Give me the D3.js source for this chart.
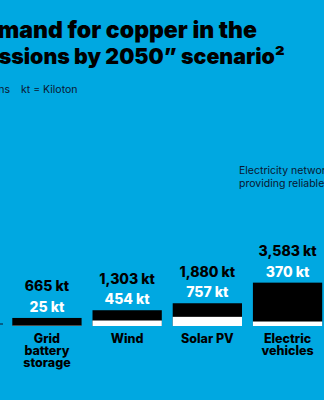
<!DOCTYPE html>
<html>
<head>
<meta charset="utf-8">
<script src="https://cdn.jsdelivr.net/npm/d3@7"></script>
<style>
  html, body { margin: 0; padding: 0; background: #00a8e1; overflow: hidden; }
  svg { display: block; font-family: Inter, "Noto Sans", sans-serif; }
</style>
</head>
<body>
<svg id="chart"></svg>
<script>
// chart data
var categories = ["Grid battery storage", "Wind", "Solar PV", "Electric vehicles"]
var categoryLines = [["Grid", "battery", "storage"], ["Wind"], ["Solar PV"], ["Electric", "vehicles"]]
var totals = [665, 1303, 1880, 3583]
var gridShare = [25, 454, 757, 370]

// the picture is a crop, so each title line is split where the left edge cuts it
var titleHidden = ["Projected de", "\u201CNet Zero Emi"]
var titleShown = ["mand for copper in the", "ssions by 2050\u201D scenario\u00B2"]
var legendText = "Demand from grid connections"
var unitText = "kt = Kiloton"
var noteLines = ["Electricity networks are key to", "providing reliable power"]

var width = 324, height = 400
var bg = "#00a8e1"

var svg = d3.select("#chart")
  .attr("width", width)
  .attr("height", height)

svg.append("rect")
  .attr("width", width).attr("height", height)
  .attr("fill", bg)

// title: fit the visible part of each line to where it sits in the original
var titleStart = [-2.5, -1.5], titleEnd = [257, 285]
titleShown.forEach(function(s, i) {
  var t = svg.append("text")
    .attr("font-size", 23.5)
    .attr("font-weight", 900)
    .text(s)
  var w = t.node().getComputedTextLength()
  var size = 23.5 * (titleEnd[i] - titleStart[i]) / w
  t.remove()
  svg.append("text")
    .attr("x", titleEnd[i])
    .attr("y", 37.5 + i * 26.5)
    .attr("text-anchor", "end")
    .attr("font-size", size)
    .attr("font-weight", 900)
    .attr("fill", "#000")
    .text(titleHidden[i] + s)
})

svg.append("text")
  .attr("x", 10).attr("y", 93)
  .attr("text-anchor", "end")
  .attr("font-size", 10.5)
  .attr("fill", "#0a1630")
  .text(legendText)

svg.append("text")
  .attr("x", 21).attr("y", 93)
  .attr("font-size", 10.5)
  .attr("fill", "#0a1630")
  .text(unitText)

// annotation at the right edge
svg.append("g").selectAll("text")
  .data(noteLines)
  .join("text")
    .attr("x", 239)
    .attr("y", (d, i) => 174 + i * 12.5)
    .attr("font-size", 10.5)
    .attr("fill", "#0a1630")
    .text(d => d)

// scales
var baseY = 326
var x = d3.scaleBand()
  .domain(categories)
  .range([12.3, 322.2])
  .paddingInner(0.136)
  .paddingOuter(0)

var y = d3.scaleLinear()
  .domain([0, 4000])
  .range([baseY, baseY - 48.4])

var data = categories.map((c, i) => ({cat: c, total: totals[i], grid: gridShare[i], lines: categoryLines[i]}))

// black = total demand
svg.append("g").selectAll("rect")
  .data(data)
  .join("rect")
    .attr("x", d => x(d.cat))
    .attr("width", x.bandwidth())
    .attr("y", d => y(d.total))
    .attr("height", d => y(0) - y(d.total))
    .attr("fill", "#000")

// white = grid part
svg.append("g").selectAll("rect")
  .data(data)
  .join("rect")
    .attr("x", d => x(d.cat))
    .attr("width", x.bandwidth())
    .attr("y", d => y(d.grid))
    .attr("height", d => y(0) - y(d.grid))
    .attr("fill", "#fff")

var fmt = d3.format(",")

svg.append("g").selectAll("text")
  .data(data)
  .join("text")
    .attr("x", d => x(d.cat) + x.bandwidth() / 2)
    .attr("y", d => y(d.total) - 26.5)
    .attr("text-anchor", "middle")
    .attr("font-size", 14)
    .attr("font-weight", 800)
    .attr("fill", "#000")
    .text(d => fmt(d.total) + " kt")

svg.append("g").selectAll("text")
  .data(data)
  .join("text")
    .attr("x", d => x(d.cat) + x.bandwidth() / 2)
    .attr("y", d => y(d.total) - 6)
    .attr("text-anchor", "middle")
    .attr("font-size", 14)
    .attr("font-weight", 800)
    .attr("fill", "#fff")
    .text(d => fmt(d.grid) + " kt")

// category labels, one text per line
var catLines = []
data.forEach(d => d.lines.forEach((t, i) => catLines.push({cat: d.cat, text: t, row: i})))

svg.append("g").selectAll("text")
  .data(catLines)
  .join("text")
    .attr("x", d => x(d.cat) + x.bandwidth() / 2)
    .attr("y", d => 342.5 + d.row * 12)
    .attr("text-anchor", "middle")
    .attr("font-size", 12.5)
    .attr("font-weight", 800)
    .attr("fill", "#000")
    .text(d => d.text)

// small mark at the left edge from the element outside the crop
svg.append("line")
  .attr("x1", 0).attr("x2", 3)
  .attr("y1", 324).attr("y2", 324)
  .attr("stroke", "#0a1630")
  .attr("stroke-width", 1)
</script>
</body>
</html>
